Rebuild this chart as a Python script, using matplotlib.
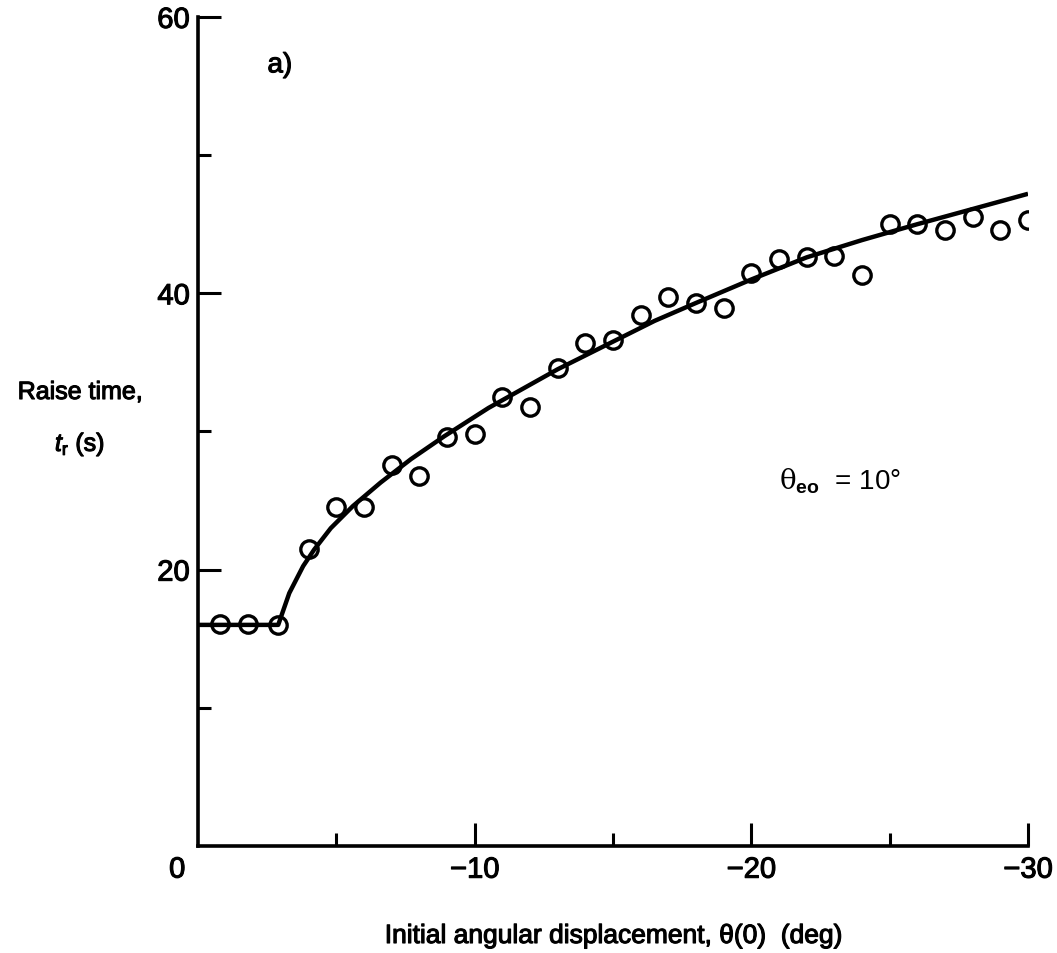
import matplotlib as mpl
import matplotlib.pyplot as plt
import matplotlib.patheffects as pe
import numpy as np

mpl.rcParams['font.family'] = ['Liberation Sans', 'DejaVu Sans']
mpl.rcParams['mathtext.fontset'] = 'custom'
mpl.rcParams['mathtext.rm'] = 'Liberation Sans'
mpl.rcParams['mathtext.it'] = 'Liberation Sans:italic'
mpl.rcParams['mathtext.bf'] = 'Liberation Sans:bold'
mpl.rcParams['mathtext.sf'] = 'DejaVu Serif'

# measured points, theta(0) in deg vs raise time (s)
theta0 = [-0.8, -1.8, -2.9, -4, -5, -6, -7, -8, -9, -10,
          -11, -12, -13, -14, -15, -16, -17, -18, -19, -20,
          -21, -22, -23, -24, -25, -26, -27, -28, -29, -30]
t_rise = [16.1, 16.1, 16.0, 21.5, 24.5, 24.5, 27.6, 26.8, 29.6, 29.8,
          32.5, 31.8, 34.6, 36.4, 36.6, 38.4, 39.7, 39.3, 38.9, 41.5,
          42.5, 42.6, 42.7, 41.3, 45.0, 45.0, 44.6, 45.5, 44.6, 45.3]

# faired curve
fit_x = [0, -2.9, -3.3, -3.8, -4.2, -4.8, -5.6, -6.6, -7.7, -8.9, -10.5,
         -13, -15, -16.5, -18, -20, -22, -24, -26, -28, -30]
fit_y = [16.0, 16.0, 18.3, 20.25, 21.45, 23.0, 24.6, 26.3, 28.0, 29.65, 31.7,
         34.5, 36.5, 38.0, 39.3, 41.0, 42.6, 43.85, 45.0, 46.1, 47.2]

xticks_major = [-10, -20, -30]
xtick_labels = ['\u221210', '\u221220', '\u221230']
xticks_minor = [-5, -15, -25]
yticks_major = [20, 40, 60]
yticks_minor = [10, 30, 50]

heavy = [pe.withStroke(linewidth=0.8, foreground='black')]

fig = plt.figure(figsize=(10.57, 9.54), dpi=100)
ax = fig.add_axes([0.1873, 0.1122, 0.7853, 0.869])

ax.plot(fit_x, fit_y, color='black', linewidth=3.2, solid_capstyle='butt',
        solid_joinstyle='round', zorder=2)
ax.plot(theta0, t_rise, linestyle='none', marker='o', markersize=12.5,
        markerfacecolor='none', markeredgecolor='black', markeredgewidth=2.4, zorder=3)

ax.set_xlim(0, -30)
ax.set_ylim(0, 60)
for s in ['top', 'right']:
    ax.spines[s].set_visible(False)
for s in ['left', 'bottom']:
    ax.spines[s].set_linewidth(2.6)

ax.set_xticks(xticks_major)
ax.set_xticklabels(xtick_labels)
ax.set_xticks(xticks_minor, minor=True)
ax.set_yticks(yticks_major)
ax.set_yticks(yticks_minor, minor=True)
ax.tick_params(which='both', direction='in', width=2.2, labelsize=21)
ax.tick_params(which='major', length=16.5)
ax.tick_params(which='minor', length=9.4)
ax.tick_params(axis='x', pad=7)
ax.tick_params(axis='y', pad=6)
for lab in ax.get_xticklabels() + ax.get_yticklabels():
    lab.set_path_effects(heavy)

ax.annotate('0', xy=(0, 0), xycoords='data', xytext=(-15, -17),
            textcoords='offset points', ha='center', va='center', fontsize=21,
            path_effects=heavy)

ax.text(-2.96, 56.5, 'a)', ha='center', va='center', fontsize=20, path_effects=heavy)
ax.text(-23.2, 26.5, r'$\mathsf{\theta}_{\bf eo}$  = 10°', ha='center', va='center',
        fontsize=20)

fig.text(80 / 1057, 1 - 393 / 954, 'Raise time,', ha='center', va='center',
         fontsize=18, path_effects=heavy)
fig.text(80 / 1057, 1 - 445 / 954, r'$t_{\rm r}$ (s)', ha='center', va='center',
         fontsize=18, path_effects=heavy)
fig.text(614 / 1057, 1 - 937 / 954, 'Initial angular displacement, \u03b8(0)  (deg)',
         ha='center', va='center', fontsize=19, path_effects=heavy)

fig.savefig('out.png', dpi=100)
